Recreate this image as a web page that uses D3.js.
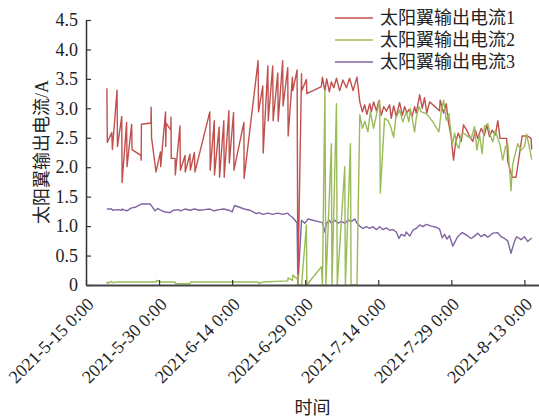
<!DOCTYPE html>
<html>
<head>
<meta charset="utf-8">
<script src="https://cdn.jsdelivr.net/npm/d3@7"></script>
<style>
  html, body { margin: 0; padding: 0; background: #fff; }
  svg { display: block; }
  text { font-family: "Liberation Serif", "Times New Roman", "Noto Sans CJK SC", serif; fill: #222; }
</style>
</head>
<body>
<svg id="chart" width="539" height="418"></svg>
<script>
// Solar wing output current, three channels
const seriesNames = ["太阳翼输出电流1", "太阳翼输出电流2", "太阳翼输出电流3"];
const seriesColors = ["#C0504D", "#9BBB59", "#8064A2"];

const xTickDates = ["2021-05-15 00:00", "2021-05-30 00:00", "2021-06-14 00:00", "2021-06-29 00:00",
                    "2021-07-14 00:00", "2021-07-29 00:00", "2021-08-13 00:00"];
const yTicks = [0, 0.5, 1.0, 1.5, 2.0, 2.5, 3.0, 3.5, 4.0, 4.5];
const xDomain = ["2021-05-15 00:00", "2021-08-16 00:00"];

// Channel 1
const times1 = [
  "2021-05-19 07:00","2021-05-19 09:00","2021-05-20 07:00","2021-05-20 10:00","2021-05-21 09:00","2021-05-21 11:00",
  "2021-05-22 08:00","2021-05-22 10:00","2021-05-23 08:00","2021-05-23 10:00","2021-05-24 09:00","2021-05-24 11:00",
  "2021-05-26 06:00","2021-05-26 08:00","2021-05-26 09:00","2021-05-28 08:00","2021-05-28 09:00","2021-05-28 11:00",
  "2021-05-29 09:00","2021-05-30 07:00","2021-05-30 08:00","2021-05-31 08:00","2021-05-31 09:00","2021-05-31 11:00",
  "2021-06-01 10:00","2021-06-01 11:00","2021-06-01 12:00","2021-06-02 07:00","2021-06-02 08:00","2021-06-03 07:00",
  "2021-06-03 09:00","2021-06-04 08:00","2021-06-04 09:00","2021-06-05 08:00","2021-06-05 10:00","2021-06-06 06:00",
  "2021-06-06 09:00","2021-06-09 10:00","2021-06-09 12:00","2021-06-10 08:00","2021-06-10 09:00","2021-06-11 08:00",
  "2021-06-11 10:00","2021-06-12 07:00","2021-06-12 09:00","2021-06-13 08:00","2021-06-13 10:00","2021-06-14 07:00",
  "2021-06-14 09:00","2021-06-16 10:00","2021-06-16 11:00","2021-06-19 08:00","2021-06-19 10:00","2021-06-20 07:00",
  "2021-06-20 09:00","2021-06-21 08:00","2021-06-21 10:00","2021-06-22 08:00","2021-06-22 10:00","2021-06-23 09:00",
  "2021-06-23 11:00","2021-06-24 09:00","2021-06-24 11:00","2021-06-25 10:00","2021-06-25 12:00","2021-06-26 09:00",
  "2021-06-26 11:00","2021-06-27 08:00","2021-06-27 12:00","2021-06-28 06:00","2021-06-28 07:00","2021-06-29 06:00",
  "2021-06-29 08:00","2021-07-02 08:00","2021-07-02 13:00","2021-07-03 01:00","2021-07-03 10:00","2021-07-03 23:00",
  "2021-07-04 09:00","2021-07-04 21:00","2021-07-05 10:00","2021-07-06 02:00","2021-07-06 18:00","2021-07-07 11:00",
  "2021-07-08 03:00","2021-07-08 20:00","2021-07-09 15:00","2021-07-10 05:00","2021-07-10 18:00","2021-07-11 05:00",
  "2021-07-11 16:00","2021-07-12 06:00","2021-07-12 14:00","2021-07-13 01:00","2021-07-13 15:00","2021-07-14 03:00",
  "2021-07-14 15:00","2021-07-15 03:00","2021-07-15 16:00","2021-07-16 08:00","2021-07-16 16:00","2021-07-17 04:00",
  "2021-07-17 17:00","2021-07-18 09:00","2021-07-18 23:00","2021-07-19 10:00","2021-07-19 21:00","2021-07-20 07:00",
  "2021-07-20 23:00","2021-07-21 11:00","2021-07-21 19:00","2021-07-22 12:00","2021-07-23 01:00","2021-07-23 12:00",
  "2021-07-23 23:00","2021-07-24 13:00","2021-07-26 14:00","2021-07-26 17:00","2021-07-27 10:00","2021-07-27 23:00",
  "2021-07-28 09:00","2021-07-28 23:00","2021-07-29 11:00","2021-07-29 21:00","2021-07-30 10:00","2021-07-31 01:00",
  "2021-07-31 12:00","2021-08-01 04:00","2021-08-01 18:00","2021-08-02 10:00","2021-08-02 23:00","2021-08-03 10:00",
  "2021-08-04 03:00","2021-08-04 19:00","2021-08-05 07:00","2021-08-05 20:00","2021-08-06 09:00","2021-08-07 01:00",
  "2021-08-07 13:00","2021-08-08 00:00","2021-08-08 10:00","2021-08-09 09:00","2021-08-09 14:00","2021-08-10 12:00",
  "2021-08-11 07:00","2021-08-12 13:00","2021-08-13 16:00","2021-08-14 09:00","2021-08-14 12:00"
];
const current1 = [
  3.34, 2.42, 2.59, 2.30, 3.31, 2.35,
  2.86, 1.74, 2.76, 2.01, 2.73, 2.30,
  2.20, 2.12, 2.73, 2.75, 3.02, 2.50,
  1.92, 2.26, 2.01, 2.94, 2.35, 2.75,
  2.63, 2.85, 2.15, 2.15, 1.87, 2.70,
  1.95, 2.20, 1.92, 2.22, 1.95, 2.25,
  1.92, 2.94, 1.95, 2.79, 1.87, 2.68,
  1.83, 2.79, 1.83, 2.96, 2.07, 2.93,
  1.95, 2.76, 1.81, 3.81, 2.94, 3.38,
  2.24, 3.72, 2.79, 3.72, 2.79, 3.60,
  2.78, 3.81, 3.04, 3.69, 2.53, 3.53,
  3.30, 3.65, 0.05, 3.59, 3.30, 3.49,
  3.25, 3.37, 3.53, 3.30, 3.50, 3.28,
  3.45, 3.35, 3.51, 3.30, 3.48, 3.35,
  3.51, 3.30, 3.53, 3.11, 2.94, 3.06,
  2.90, 3.08, 2.94, 3.11, 2.96, 3.13,
  2.88, 3.03, 2.95, 3.06, 2.83, 3.04,
  2.86, 3.10, 2.88, 3.03, 2.92, 2.98,
  2.86, 3.03, 2.92, 3.23, 3.00, 3.18,
  2.92, 3.11, 2.96, 3.14, 2.92, 3.08,
  2.78, 2.52, 2.12, 2.42, 2.58, 2.44,
  2.72, 2.63, 2.52, 2.44, 2.63, 2.49,
  2.66, 2.54, 2.72, 2.52, 2.63, 2.55,
  2.79, 2.49, 2.49, 2.49, 2.10, 1.83,
  1.83, 2.53, 2.53, 2.49, 2.30
];

// Channel 2
const times2 = [
  "2021-05-19 07:00","2021-05-19 10:00","2021-05-20 07:00","2021-05-20 10:00","2021-05-21 10:00","2021-05-29 09:00",
  "2021-05-29 12:00","2021-05-30 07:00","2021-06-02 07:00","2021-06-02 09:00","2021-06-05 08:00","2021-06-05 12:00",
  "2021-06-19 08:00","2021-06-19 12:00","2021-06-20 07:00","2021-06-25 10:00","2021-06-25 12:00","2021-06-26 09:00",
  "2021-06-26 11:00","2021-06-27 08:00","2021-06-27 12:00","2021-06-27 14:00","2021-06-28 06:00","2021-06-29 06:00",
  "2021-06-29 08:00","2021-07-02 08:00","2021-07-02 13:00","2021-07-03 01:00","2021-07-03 06:00","2021-07-04 09:00",
  "2021-07-04 12:00","2021-07-05 10:00","2021-07-05 14:00","2021-07-07 03:00","2021-07-07 06:00","2021-07-08 07:00",
  "2021-07-08 10:00","2021-07-09 15:00","2021-07-10 05:00","2021-07-10 18:00","2021-07-11 06:00","2021-07-11 21:00",
  "2021-07-12 09:00","2021-07-13 01:00","2021-07-13 15:00","2021-07-14 07:00","2021-07-14 10:00","2021-07-15 07:00",
  "2021-07-16 00:00","2021-07-16 12:00","2021-07-17 04:00","2021-07-17 14:00","2021-07-18 09:00","2021-07-19 01:00",
  "2021-07-19 18:00","2021-07-20 07:00","2021-07-20 14:00","2021-07-21 11:00","2021-07-21 19:00","2021-07-22 08:00",
  "2021-07-22 20:00","2021-07-23 21:00","2021-07-25 05:00","2021-07-26 11:00","2021-07-26 22:00","2021-07-27 10:00",
  "2021-07-27 23:00","2021-07-28 12:00","2021-07-29 05:00","2021-07-29 16:00","2021-07-30 03:00","2021-07-30 13:00",
  "2021-07-31 01:00","2021-07-31 12:00","2021-08-01 09:00","2021-08-02 02:00","2021-08-02 18:00","2021-08-03 06:00",
  "2021-08-03 19:00","2021-08-04 08:00","2021-08-04 19:00","2021-08-05 12:00","2021-08-05 23:00","2021-08-06 12:00",
  "2021-08-07 01:00","2021-08-07 13:00","2021-08-08 00:00","2021-08-08 13:00","2021-08-09 03:00","2021-08-09 14:00",
  "2021-08-10 06:00","2021-08-10 14:00","2021-08-11 15:00","2021-08-12 08:00","2021-08-13 00:00","2021-08-13 11:00",
  "2021-08-14 00:00","2021-08-14 12:00"
];
const current2 = [
  0.06, 0.03, 0.06, 0.04, 0.05, 0.05,
  0.08, 0.05, 0.05, 0.02, 0.02, 0.05,
  0.05, 0.03, 0.05, 0.07, 0.12, 0.08,
  0.17, 0.10, 0.18, 0.00, 0.00, 1.02,
  0.00, 0.31, 0.00, 3.31, 0.00, 2.40,
  0.00, 3.08, 0.00, 2.01, 0.00, 2.40,
  0.00, 0.00, 2.89, 2.66, 2.78, 2.60,
  2.94, 2.66, 2.89, 3.14, 1.56, 2.83,
  2.79, 2.70, 2.51, 2.83, 2.97, 2.77,
  2.94, 2.77, 3.00, 2.60, 2.83, 3.03,
  2.94, 2.91, 2.77, 2.60, 2.94, 3.14,
  2.80, 2.91, 2.38, 2.58, 2.38, 2.32,
  2.55, 2.58, 2.52, 2.49, 2.69, 2.29,
  2.55, 2.23, 2.69, 2.74, 2.55, 2.43,
  2.63, 2.49, 2.38, 2.12, 2.35, 2.40,
  1.60, 2.04, 2.40, 2.29, 2.35, 2.56,
  2.35, 2.13
];

// Channel 3
const times3 = [
  "2021-05-19 07:00","2021-05-20 07:00","2021-05-20 10:00","2021-05-21 09:00","2021-05-22 08:00","2021-05-22 10:00",
  "2021-05-23 08:00","2021-05-24 09:00","2021-05-25 02:00","2021-05-26 08:00","2021-05-28 04:00","2021-05-28 12:00",
  "2021-05-29 04:00","2021-05-29 18:00","2021-05-30 07:00","2021-05-31 05:00","2021-06-01 06:00","2021-06-01 22:00",
  "2021-06-02 23:00","2021-06-03 09:00","2021-06-04 08:00","2021-06-05 08:00","2021-06-06 06:00","2021-06-07 08:00",
  "2021-06-08 09:00","2021-06-09 10:00","2021-06-10 08:00","2021-06-11 08:00","2021-06-12 07:00","2021-06-13 08:00",
  "2021-06-14 00:00","2021-06-14 12:00","2021-06-15 12:00","2021-06-16 12:00","2021-06-17 15:00","2021-06-19 00:00",
  "2021-06-19 12:00","2021-06-20 08:00","2021-06-21 08:00","2021-06-22 08:00","2021-06-23 09:00","2021-06-24 09:00",
  "2021-06-25 10:00","2021-06-25 20:00","2021-06-26 09:00","2021-06-27 00:00","2021-06-27 08:00","2021-06-27 12:00",
  "2021-06-28 06:00","2021-06-28 22:00","2021-06-29 14:00","2021-07-02 13:00","2021-07-03 01:00","2021-07-03 09:00",
  "2021-07-03 22:00","2021-07-04 09:00","2021-07-05 02:00","2021-07-05 18:00","2021-07-06 10:00","2021-07-07 03:00",
  "2021-07-07 19:00","2021-07-08 12:00","2021-07-09 04:00","2021-07-09 15:00","2021-07-10 05:00","2021-07-10 21:00",
  "2021-07-11 13:00","2021-07-12 06:00","2021-07-12 22:00","2021-07-13 15:00","2021-07-14 07:00","2021-07-14 23:00",
  "2021-07-15 16:00","2021-07-16 08:00","2021-07-17 00:00","2021-07-17 17:00","2021-07-18 06:00","2021-07-18 17:00",
  "2021-07-19 10:00","2021-07-19 18:00","2021-07-20 11:00","2021-07-21 03:00","2021-07-21 19:00","2021-07-22 12:00",
  "2021-07-23 04:00","2021-07-23 21:00","2021-07-24 21:00","2021-07-25 22:00","2021-07-26 14:00","2021-07-27 03:00",
  "2021-07-27 15:00","2021-07-28 03:00","2021-07-28 15:00","2021-07-29 07:00","2021-07-30 07:00","2021-07-31 06:00",
  "2021-08-01 01:00","2021-08-02 02:00","2021-08-02 18:00","2021-08-03 10:00","2021-08-04 03:00","2021-08-04 19:00",
  "2021-08-05 12:00","2021-08-06 12:00","2021-08-07 13:00","2021-08-08 05:00","2021-08-08 22:00","2021-08-09 14:00",
  "2021-08-10 06:00","2021-08-10 23:00","2021-08-11 10:00","2021-08-12 08:00","2021-08-13 00:00","2021-08-13 16:00",
  "2021-08-14 09:00","2021-08-14 12:00"
];
const current3 = [
  1.29, 1.29, 1.27, 1.28, 1.27, 1.29,
  1.26, 1.31, 1.32, 1.375, 1.375, 1.34,
  1.26, 1.30, 1.27, 1.24, 1.23, 1.27,
  1.28, 1.26, 1.29, 1.27, 1.29, 1.27,
  1.28, 1.29, 1.26, 1.28, 1.29, 1.27,
  1.24, 1.35, 1.32, 1.29, 1.27, 1.21,
  1.23, 1.20, 1.22, 1.20, 1.22, 1.20,
  1.22, 1.18, 1.15, 1.09, 1.05, 0.00,
  1.10, 1.05, 1.12, 1.06, 0.90, 1.05,
  1.10, 1.05, 1.10, 1.05, 1.08, 1.05,
  1.10, 1.08, 1.12, 1.05, 1.00, 0.96,
  0.99, 0.96, 0.99, 0.94, 0.99, 0.94,
  0.97, 0.93, 0.94, 0.90, 0.79, 0.86,
  0.83, 0.90, 0.83, 0.93, 0.96, 1.02,
  0.99, 1.03, 1.00, 0.98, 0.95, 0.80,
  0.86, 0.78, 0.84, 0.66, 0.82, 0.89,
  0.85, 0.79, 0.83, 0.88, 0.82, 0.86,
  0.81, 0.88, 0.89, 0.82, 0.79, 0.75,
  0.54, 0.74, 0.82, 0.77, 0.82, 0.74,
  0.79, 0.80
];

const parse = d3.timeParse("%Y-%m-%d %H:%M");
const series = [
  { name: seriesNames[0], color: seriesColors[0], times: times1, values: current1 },
  { name: seriesNames[1], color: seriesColors[1], times: times2, values: current2 },
  { name: seriesNames[2], color: seriesColors[2], times: times3, values: current3 }
].map(s => ({ ...s, points: s.times.map((t, i) => ({ t: parse(t), v: s.values[i] })) }));

const svg = d3.select("#chart");
const plotLeft = 86, plotRight = 539, plotTop = 20, plotBottom = 285;

const x = d3.scaleTime().domain(xDomain.map(parse)).range([plotLeft, plotRight]);
const y = d3.scaleLinear().domain([0, 4.5]).range([plotBottom, plotTop]);

// Lines: channel 3 at the back, then 1, then 2 on top
const line = d3.line().x(d => x(d.t)).y(d => y(d.v));
const drawOrder = [2, 0, 1];
svg.append("g").selectAll("path")
  .data(drawOrder.map(i => series[i]))
  .join("path")
  .attr("d", s => line(s.points))
  .attr("fill", "none")
  .attr("stroke", s => s.color)
  .attr("stroke-width", 1.4)
  .attr("stroke-linejoin", "round");

// Y axis
const fmtY = d => d === 0 ? "0" : d.toFixed(1);
const gy = svg.append("g")
  .attr("transform", `translate(${plotLeft},0)`)
  .call(d3.axisLeft(y).tickValues(yTicks).tickFormat(fmtY).tickSizeInner(-5).tickSizeOuter(0).tickPadding(8));
gy.select(".domain").attr("stroke", "#333").attr("stroke-width", 1.5);
gy.selectAll(".tick line").attr("stroke", "#333").attr("stroke-width", 1.2);
gy.selectAll(".tick text").attr("font-size", 18).attr("fill", "#222")
  .style("font-family", "'Liberation Serif', serif");

// X axis
const fmtX = d3.timeFormat("%Y-%-m-%-d %-H:%M");
const gx = svg.append("g")
  .attr("transform", `translate(0,${plotBottom})`)
  .call(d3.axisBottom(x).tickValues(xTickDates.map(parse)).tickFormat(fmtX).tickSizeInner(-5).tickSizeOuter(0));
gx.select(".domain").attr("stroke", "#444").attr("stroke-width", 2);
gx.selectAll(".tick line").attr("stroke", "#333").attr("stroke-width", 1.2);
gx.selectAll(".tick text")
  .attr("x", 0).attr("y", 0).attr("dy", "0.35em")
  .attr("text-anchor", "end")
  .attr("transform", "translate(4,16) rotate(-45)")
  .attr("font-size", 18).attr("fill", "#222")
  .style("font-family", "'Liberation Serif', serif");

// Axis titles
svg.append("text")
  .attr("transform", "translate(42,152) rotate(-90)")
  .attr("text-anchor", "middle")
  .attr("dominant-baseline", "central")
  .attr("font-size", 18)
  .text("太阳翼输出电流/A");

svg.append("text")
  .attr("x", (plotLeft + plotRight) / 2)
  .attr("y", 408)
  .attr("text-anchor", "middle")
  .attr("dominant-baseline", "central")
  .attr("font-size", 18)
  .text("时间");

// Legend
const legend = svg.append("g");
series.forEach((s, i) => {
  const ly = 18 + i * 22;
  legend.append("line")
    .attr("x1", 335).attr("x2", 373).attr("y1", ly).attr("y2", ly)
    .attr("stroke", s.color).attr("stroke-width", 1.5);
  legend.append("text")
    .attr("x", 380).attr("y", ly)
    .attr("dominant-baseline", "central")
    .attr("font-size", 18)
    .text(s.name);
});
</script>
</body>
</html>
